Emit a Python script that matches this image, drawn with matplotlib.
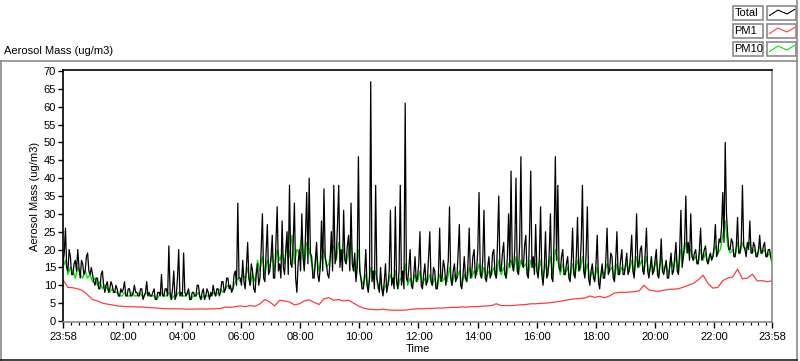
import numpy as np
import matplotlib.pyplot as plt
from matplotlib.patches import Rectangle

plt.rcParams['font.family'] = ['Liberation Sans', 'DejaVu Sans']
plt.rcParams['font.size'] = 8

# Total mass, 2.5 minute samples starting 23:58 (one row per hour)
total = [
    16, 19, 26, 15, 14, 20, 18, 13, 13, 16, 17, 14, 20, 15, 12, 17, 16, 13, 14, 18, 19, 14, 13, 15,
    13, 11, 10, 12, 12, 9, 9, 13, 14, 10, 8, 10, 11, 8, 9, 11, 10, 8, 8, 10, 9, 7, 7, 9,
    8, 9, 11, 7, 7, 9, 9, 7, 7, 8, 10, 8, 8, 7, 7, 9, 9, 6, 7, 8, 11, 7, 8, 7,
    7, 8, 9, 6, 6, 8, 8, 7, 13, 7, 7, 9, 9, 7, 21, 8, 6, 9, 14, 6, 7, 12, 20, 7,
    8, 7, 19, 8, 7, 8, 9, 6, 6, 8, 8, 7, 7, 10, 10, 7, 6, 8, 9, 6, 7, 9, 8, 6,
    8, 7, 10, 8, 7, 9, 9, 7, 8, 11, 11, 8, 9, 12, 12, 9, 10, 8, 9, 13, 14, 10, 33, 12,
    12, 10, 17, 11, 9, 15, 22, 12, 10, 16, 14, 9, 8, 13, 16, 10, 12, 20, 30, 12, 11, 19, 27, 13,
    14, 18, 24, 12, 12, 22, 32, 14, 16, 12, 28, 15, 13, 20, 25, 13, 38, 16, 15, 22, 33, 12, 8, 16,
    20, 14, 30, 18, 14, 24, 36, 16, 40, 19, 18, 12, 12, 17, 22, 13, 11, 15, 28, 14, 37, 18, 16, 13,
    12, 17, 25, 14, 38, 16, 18, 27, 38, 15, 20, 14, 31, 17, 16, 21, 24, 14, 33, 16, 14, 19, 11, 15,
    46, 14, 12, 9, 9, 13, 20, 10, 8, 12, 67, 11, 14, 9, 38, 12, 10, 8, 15, 9, 7, 11, 16, 8,
    10, 14, 31, 10, 12, 9, 32, 11, 9, 14, 38, 10, 14, 9, 61, 12, 11, 15, 20, 10, 9, 13, 18, 11,
    12, 16, 25, 10, 9, 13, 16, 10, 11, 18, 25, 11, 10, 15, 14, 9, 9, 13, 26, 11, 12, 17, 15, 10,
    13, 17, 32, 12, 10, 14, 16, 11, 12, 19, 27, 10, 9, 13, 18, 12, 11, 16, 26, 12, 13, 18, 20, 12,
    14, 20, 36, 13, 12, 17, 31, 12, 11, 15, 18, 12, 13, 19, 20, 13, 12, 22, 35, 14, 14, 19, 22, 13,
    12, 18, 30, 15, 42, 16, 14, 20, 40, 14, 13, 22, 46, 16, 15, 21, 24, 13, 12, 24, 42, 15, 18, 13,
    27, 14, 12, 18, 32, 13, 10, 15, 25, 12, 13, 19, 30, 12, 11, 24, 46, 17, 38, 15, 14, 18, 20, 13,
    13, 16, 18, 12, 11, 17, 26, 13, 12, 18, 29, 14, 15, 22, 38, 14, 12, 19, 32, 12, 10, 14, 16, 12,
    11, 16, 24, 11, 9, 13, 16, 12, 12, 17, 26, 13, 14, 19, 18, 12, 11, 17, 25, 13, 13, 17, 20, 13,
    13, 16, 19, 13, 14, 18, 24, 14, 12, 18, 30, 15, 16, 20, 21, 14, 13, 19, 26, 14, 12, 15, 18, 13,
    14, 17, 20, 13, 12, 16, 23, 14, 13, 15, 17, 12, 12, 16, 19, 13, 14, 18, 22, 14, 13, 20, 31, 15,
    18, 22, 35, 19, 22, 17, 30, 18, 17, 19, 20, 16, 16, 20, 26, 17, 18, 20, 21, 17, 16, 18, 19, 17,
    18, 21, 27, 18, 19, 23, 22, 26, 36, 22, 50, 30, 24, 20, 20, 23, 22, 18, 18, 21, 29, 19, 19, 22,
    38, 21, 20, 18, 22, 20, 28, 19, 19, 22, 21, 18, 18, 20, 24, 19, 19, 21, 22, 18, 18, 20, 20, 18,
    17,
]

# PM10, 5 minute samples
pm10 = [
    15, 17, 13, 15, 14, 12, 15, 13, 12, 14, 12, 13,
    11, 12, 10, 11, 9, 10, 9, 8, 9, 8, 8, 7,
    7, 8, 7, 7, 8, 7, 7, 8, 7, 7, 8, 7,
    7, 7, 6, 7, 8, 7, 7, 8, 6, 7, 7, 8,
    7, 7, 7, 8, 6, 7, 7, 8, 6, 7, 7, 7,
    7, 8, 7, 8, 9, 8, 9, 10, 9, 9, 11, 12,
    11, 13, 12, 15, 10, 13, 11, 17, 14, 18, 13, 17,
    15, 19, 14, 20, 17, 19, 16, 22, 18, 24, 16, 20,
    19, 24, 15, 22, 20, 16, 13, 19, 14, 18, 20, 15,
    16, 20, 21, 17, 22, 18, 20, 16, 19, 22, 15, 13,
    20, 12, 10, 13, 9, 15, 12, 14, 9, 11, 8, 10,
    10, 13, 11, 14, 9, 12, 11, 16, 10, 12, 10, 13,
    11, 14, 10, 12, 11, 13, 10, 12, 9, 13, 11, 12,
    11, 15, 10, 13, 12, 14, 10, 13, 11, 15, 12, 14,
    13, 16, 12, 15, 12, 14, 13, 15, 12, 17, 13, 15,
    12, 16, 17, 14, 18, 13, 17, 15, 16, 13, 17, 15,
    16, 13, 17, 12, 16, 14, 18, 13, 20, 17, 13, 16,
    13, 15, 12, 16, 13, 17, 14, 18, 13, 16, 12, 14,
    12, 15, 11, 14, 13, 16, 14, 15, 12, 16, 13, 15,
    14, 16, 14, 17, 13, 18, 15, 17, 14, 18, 13, 16,
    14, 17, 13, 18, 14, 16, 13, 17, 15, 18, 14, 20,
    18, 22, 19, 20, 17, 18, 16, 20, 17, 19, 16, 18,
    18, 21, 19, 20, 24, 28, 21, 19, 20, 18, 22, 19,
    22, 20, 21, 22, 19, 20, 18, 21, 19, 20, 18, 19,
    16,
]

# PM1, 10 minute samples
pm1 = [
    11.5, 9.4, 9.3, 9.0, 8.5, 7.3,
    6.0, 5.6, 5.0, 4.7, 4.5, 4.2,
    4.1, 4.0, 4.0, 3.9, 3.9, 3.8,
    3.7, 3.6, 3.5, 3.4, 3.4, 3.4,
    3.4, 3.3, 3.3, 3.3, 3.4, 3.3,
    3.4, 3.4, 3.5, 3.9, 3.8, 4.0,
    4.2, 4.0, 4.3, 4.1, 4.8, 6.0,
    5.3, 4.2, 5.8, 5.6, 5.3, 4.5,
    4.8, 5.6, 5.9, 5.2, 4.6, 6.2,
    6.5, 5.8, 6.0, 5.6, 5.8, 5.0,
    4.2, 3.6, 3.3, 3.2, 3.1, 3.3,
    3.1, 3.0, 3.0, 3.0, 3.1, 3.3,
    3.4, 3.4, 3.5, 3.5, 3.6, 3.6,
    3.7, 3.8, 3.8, 3.9, 3.9, 4.0,
    4.0, 4.1, 4.2, 4.3, 4.8, 4.3,
    4.3, 4.3, 4.4, 4.5, 4.6, 4.8,
    4.8, 4.9, 5.0, 5.1, 5.3, 5.5,
    5.8, 6.0, 6.2, 6.3, 6.4, 7.0,
    6.6, 6.9, 6.5, 7.0, 7.8, 8.0,
    8.0, 8.1, 8.2, 8.4, 10.0, 8.7,
    8.4, 8.3, 8.6, 8.8, 8.9, 9.0,
    9.5, 10.0, 10.5, 11.5, 12.8, 10.5,
    9.2, 9.4, 11.3, 12.0, 12.3, 14.5,
    11.8, 12.0, 13.1, 11.2, 11.3, 11.0,
    11.2,
]

tick_labels = ['23:58', '02:00', '04:00', '06:00', '08:00', '10:00', '12:00',
               '14:00', '16:00', '18:00', '20:00', '22:00', '23:58']
series_names = ['Total', 'PM1', 'PM10']
colors = ['#000000', '#ff3c3c', '#00e600']

t_total = np.arange(len(total)) * 2.5
t_pm10 = np.arange(len(pm10)) * 5
t_pm1 = np.arange(len(pm1)) * 10

W, H = 800, 361
fig = plt.figure(figsize=(W / 100, H / 100), dpi=100)

# background layer in pixel coordinates for frame, titles and legend
bg = fig.add_axes([0, 0, 1, 1])
bg.set_xlim(0, W)
bg.set_ylim(H, 0)
bg.axis('off')
gray = '#8a8a8a'
bg.plot([0, 797], [61, 61], color=gray, lw=1.2)
bg.plot([0.6, 0.6], [61, 361], color=gray, lw=1.2)
bg.plot([797, 797], [0, 361], color=gray, lw=1.2)
bg.plot([0, 797], [359.5, 359.5], color='#202020', lw=1.2)
bg.text(4, 51, 'Aerosol Mass (ug/m3)', fontsize=8, va='center', ha='left')

# legend: name boxes + swatch boxes
for i, (name, c) in enumerate(zip(series_names, colors)):
    top = 6 + i * 18
    bg.add_patch(Rectangle((732.5, top), 30.5, 14, fill=False, ec=gray, lw=1.2))
    bg.add_patch(Rectangle((767, top), 29, 14, fill=False, ec=gray, lw=1.2))
    bg.text(734.5, top + 7.5, name, fontsize=8, va='center', ha='left')
    bg.plot([769.5, 778, 787, 794.5], [top + 9.5, top + 4, top + 8, top + 3.5],
            color=c, lw=0.8)

ax = fig.add_axes([63 / W, 1 - 322 / H, (772 - 63) / W, (322 - 70) / H])
ax.plot(t_pm10, pm10, color=colors[2], lw=1.0)
ax.plot(t_total, total, color=colors[0], lw=0.9)
ax.plot(t_pm1, pm1, color=colors[1], lw=0.9)

ax.set_xlim(0, 1440)
ax.set_ylim(-0.3, 70.3)
ax.set_yticks(np.arange(0, 71, 5))

# start is 23:58 -> clock minute m sits at m + 2
major = [0] + [h * 60 + 2 for h in range(2, 23, 2)] + [1440]
ax.set_xticks(major)
ax.set_xticklabels(tick_labels)
ax.set_xticks([m + 2 for m in range(15, 1440, 15) if (m % 120) != 0], minor=True)

ax.tick_params(axis='x', which='major', length=4, width=1, pad=3, labelsize=8)
ax.tick_params(axis='x', which='minor', length=2.2, width=0.8)
ax.tick_params(axis='y', which='major', length=3.5, width=1, pad=1.5, labelsize=8)

for side in ['left', 'top']:
    ax.spines[side].set_color('black')
    ax.spines[side].set_linewidth(1.2)
for side in ['right', 'bottom']:
    ax.spines[side].set_color(gray)
    ax.spines[side].set_linewidth(1.2)

ax.set_ylabel('Aerosol Mass (ug/m3)', fontsize=8, labelpad=3)
ax.set_xlabel('Time', fontsize=8, labelpad=2)

fig.savefig('out.png', dpi=100)
